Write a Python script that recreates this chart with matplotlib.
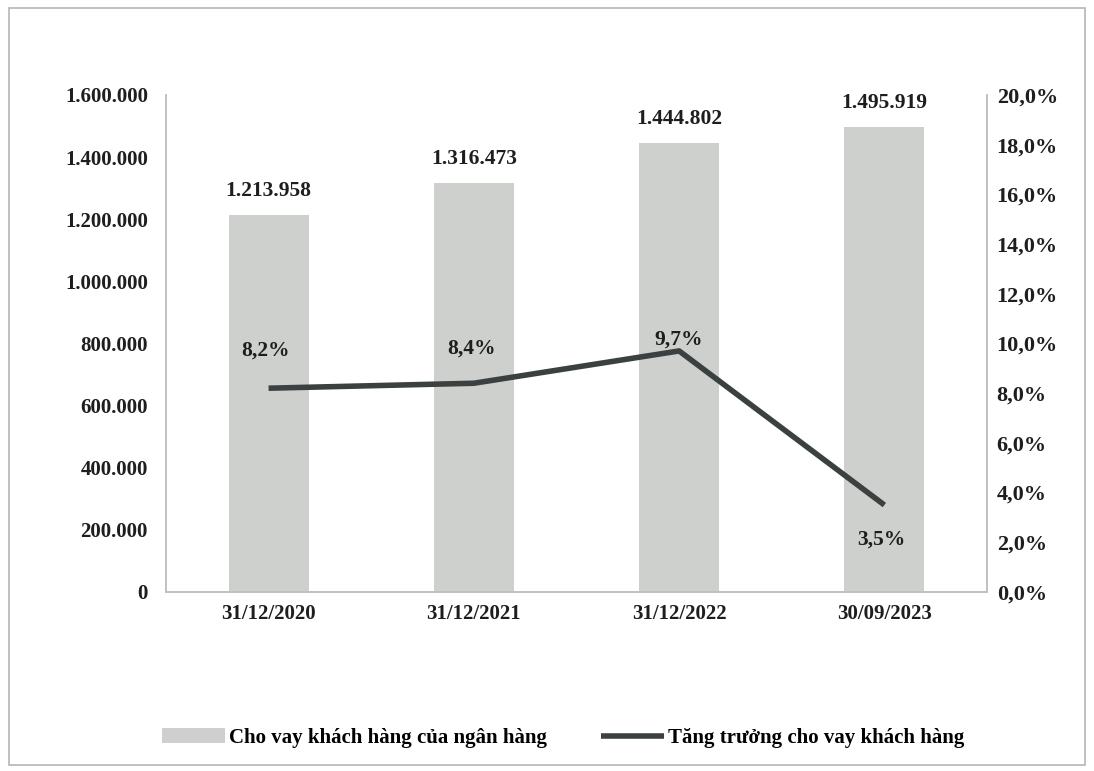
import matplotlib.pyplot as plt
from matplotlib.patches import Rectangle
from matplotlib.ticker import FuncFormatter

categories = ["31/12/2020", "31/12/2021", "31/12/2022", "30/09/2023"]
loans = [1213958, 1316473, 1444802, 1495919]
growth = [8.2, 8.4, 9.7, 3.5]
bar_name = "Cho vay khách hàng của ngân hàng"
line_name = "Tăng trưởng cho vay khách hàng"

# label offsets (points) for the growth labels, placed by hand as in the source
growth_offsets = [(-2, 27), (-2, 25), (0, 8), (-2, -25)]

plt.rcParams['font.family'] = ['Liberation Serif', 'DejaVu Serif']
plt.rcParams['font.weight'] = 'bold'
plt.rcParams['font.size'] = 15

BAR_COLOR = '#cdd0cd'
LINE_COLOR = '#3b4040'
TEXT_COLOR = '#1e1e1e'
SPINE_COLOR = '#c0c0c0'


def thousands(v, pos):
    return f"{int(v):,}".replace(",", ".")


def pct(v, pos):
    return f"{v:.1f}%".replace(".", ",")


fig = plt.figure(figsize=(10.94, 7.71), dpi=100)
ax = fig.add_axes([0.1517, 0.2322, 0.7505, 0.6446])
ax2 = ax.twinx()

x = list(range(len(categories)))
bars = ax.bar(x, loans, width=0.39, color=BAR_COLOR, edgecolor='none',
              label=bar_name, zorder=2)
for xi, v in zip(x, loans):
    ax.annotate(thousands(v, None), (xi, v), xytext=(0, 10),
                textcoords='offset points', ha='center', va='bottom',
                color=TEXT_COLOR, fontsize=15.5)

ax.set_xlim(-0.5, len(categories) - 0.5)
ax.set_ylim(0, 1600000)
ax.set_yticks(range(0, 1600001, 200000))
ax.yaxis.set_major_formatter(FuncFormatter(thousands))
ax.set_xticks(x)
ax.set_xticklabels(categories)
ax.tick_params(axis='y', length=0, pad=13, colors=TEXT_COLOR)
ax.tick_params(axis='x', length=0, pad=9, colors=TEXT_COLOR)

ax2.plot(x, growth, color=LINE_COLOR, linewidth=4, label=line_name,
         solid_capstyle='butt', zorder=3)
for xi, g, off in zip(x, growth, growth_offsets):
    ax2.annotate(f"{g:.1f}%".replace(".", ","), (xi, g), xytext=off,
                 textcoords='offset points', ha='center', va='center',
                 color=TEXT_COLOR, fontsize=15.5)
ax2.set_ylim(0, 20)
ax2.set_yticks(range(0, 21, 2))
ax2.yaxis.set_major_formatter(FuncFormatter(pct))
ax2.tick_params(axis='y', length=0, pad=7, colors=TEXT_COLOR, labelsize=16)

for a in (ax, ax2):
    a.spines['top'].set_visible(False)
    for s in ('left', 'right', 'bottom'):
        a.spines[s].set_color(SPINE_COLOR)
        a.spines[s].set_linewidth(1.2)

handles = [bars, ax2.get_lines()[0]]
fig.legend(handles, [bar_name, line_name], loc='center',
           bbox_to_anchor=(0.515, 0.043), ncol=2, frameon=False,
           handlelength=3.0, handletextpad=0.2, columnspacing=2.6,
           fontsize=15)

# outer frame like the scanned report
fig.patches.append(Rectangle((0.008, 0.008), 0.984, 0.982,
                             transform=fig.transFigure, fill=False,
                             edgecolor='#b5b5b5', linewidth=1.2))

fig.savefig("out.png", dpi=100)
